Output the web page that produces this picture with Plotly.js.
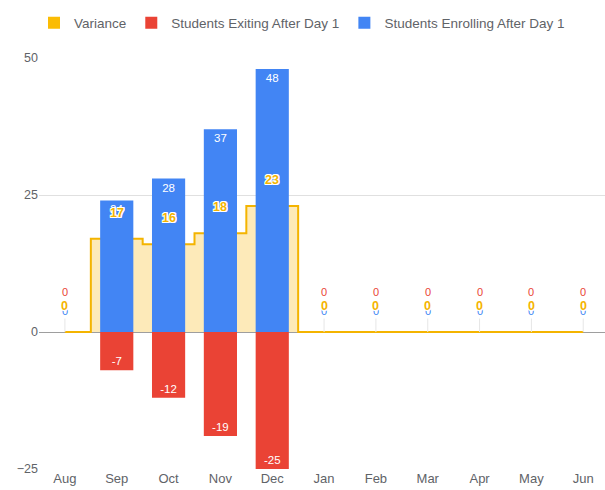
<!DOCTYPE html>
<html>
<head>
<meta charset="utf-8">
<script src="https://cdn.plot.ly/plotly-3.0.1.min.js"></script>
<style>html,body{margin:0;padding:0;background:#fff;}#chart{width:605px;height:490px;}</style>
</head>
<body>
<div id="chart"></div>
<script>
var months = ["Aug","Sep","Oct","Nov","Dec","Jan","Feb","Mar","Apr","May","Jun"];
var enrolling = [0,24,28,37,48,0,0,0,0,0,0];
var exiting = [0,-7,-12,-19,-25,0,0,0,0,0,0];
var variance = [0,17,16,18,23,0,0,0,0,0,0];
var yTicks = [-25,0,25,50];

var BLUE = "#4285f4", RED = "#ea4335", YEL = "#f4b400";
var FONT = "Liberation Sans, Arial, sans-serif";
var outline = "1px 1px 0 #fff, -1px -1px 0 #fff, 1px -1px 0 #fff, -1px 1px 0 #fff, 0 1px 0 #fff, 0 -1px 0 #fff, 1px 0 0 #fff, -1px 0 0 #fff";

function lbl(arr){ return arr.map(function(v){ return v === 0 ? "" : String(v); }); }

var traces = [
  {
    type: "scatter", x: months, y: variance, mode: "lines",
    line: {shape: "hvh", color: YEL, width: 2},
    fill: "tozeroy", fillcolor: "rgba(251,208,100,0.45)",
    showlegend: false, hoverinfo: "skip", xaxis: "x", yaxis: "y"
  },
  {
    type: "bar", x: months, y: variance.map(function(){return 0;}), name: "Variance",
    marker: {color: "#fbbc04", line: {width: 0}}, legendrank: 1, xaxis: "x", yaxis: "y2"
  },
  {
    type: "bar", x: months, y: exiting, name: "Students Exiting After Day 1",
    marker: {color: RED}, text: lbl(exiting), textposition: "inside", insidetextanchor: "end",
    textfont: {color: "#fff", size: 11.5, family: FONT}, constraintext: "none",
    legendrank: 2, xaxis: "x", yaxis: "y2"
  },
  {
    type: "bar", x: months, y: enrolling, name: "Students Enrolling After Day 1",
    marker: {color: BLUE}, text: lbl(enrolling), textposition: "inside", insidetextanchor: "end",
    textfont: {color: "#fff", size: 11.5, family: FONT}, constraintext: "none",
    legendrank: 3, xaxis: "x", yaxis: "y2"
  }
];

var annotations = [];
months.forEach(function(m, i){
  if (enrolling[i] === 0) {
    annotations.push({x: m, y: 0, xref: "x", yref: "y", text: "0", showarrow: true,
      ax: 0, ay: -21, arrowhead: 0, arrowwidth: 1, arrowcolor: "#e6e6e6", standoff: 0,
      font: {color: BLUE, size: 11, family: FONT}});
  }
  if (exiting[i] === 0) {
    annotations.push({x: m, y: 0, xref: "x", yref: "y", text: "0", showarrow: false,
      yshift: 40, font: {color: RED, size: 11, family: FONT, shadow: outline}});
  }
});
months.forEach(function(m, i){
  annotations.push({x: m, y: variance[i], xref: "x", yref: "y", text: String(variance[i]),
    showarrow: false, yshift: 26,
    font: {color: YEL, size: 12.5, family: FONT, weight: "bold", shadow: outline}});
});

var layout = {
  width: 605, height: 490,
  margin: {l: 39, r: 0, t: 58, b: 21},
  paper_bgcolor: "#fff", plot_bgcolor: "#fff",
  barmode: "relative", bargap: 0.36,
  font: {family: FONT, color: "#5f6368", size: 12},
  showlegend: true,
  legend: {orientation: "h", xref: "container", yref: "container", x: 34/605, y: 1 - 23/490,
    xanchor: "left", yanchor: "middle", font: {size: 13.5, color: "#5f6368"}, itemgap: 5,
    traceorder: "normal"},
  xaxis: {type: "category", range: [-0.5, 10.42], showgrid: false, zeroline: false,
    showline: false, ticks: "", tickfont: {size: 13, color: "#5f6368"}, fixedrange: true},
  yaxis: {range: [-25, 50], tickvals: yTicks, showgrid: true, gridcolor: "#e0e0e0",
    zeroline: true, zerolinecolor: "#9e9e9e", zerolinewidth: 1, showline: false,
    ticks: "", tickfont: {size: 12.5, color: "#5f6368"}, fixedrange: true},
  yaxis2: {overlaying: "y", range: [-25, 50], showgrid: false, zeroline: false,
    showticklabels: false, showline: false, ticks: "", fixedrange: true},
  annotations: annotations
};

Plotly.newPlot("chart", traces, layout, {displayModeBar: false, staticPlot: true});
</script>
</body>
</html>
